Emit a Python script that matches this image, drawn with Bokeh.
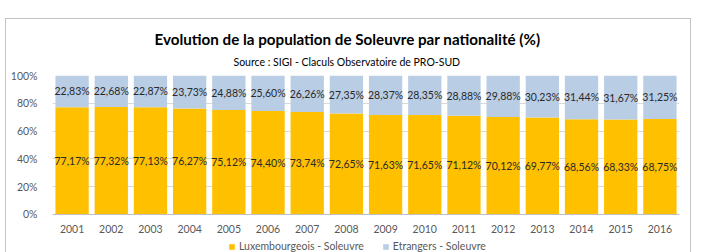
from bokeh.plotting import figure
from bokeh.models import (ColumnDataSource, LabelSet, FactorRange, Range1d, FixedTicker,
                          PrintfTickFormatter, Title, Legend, LegendItem)
from bokeh.core.properties import value
from bokeh.embed import file_html
from bokeh.resources import INLINE

# ---- data ----
years = ["2001", "2002", "2003", "2004", "2005", "2006", "2007", "2008",
         "2009", "2010", "2011", "2012", "2013", "2014", "2015", "2016"]
luxembourgeois = [77.17, 77.32, 77.13, 76.27, 75.12, 74.40, 73.74, 72.65,
                  71.63, 71.65, 71.12, 70.12, 69.77, 68.56, 68.33, 68.75]
etrangers = [22.83, 22.68, 22.87, 23.73, 24.88, 25.60, 26.26, 27.35,
             28.37, 28.35, 28.88, 29.88, 30.23, 31.44, 31.67, 31.25]
series_names = ["Luxembourgeois - Soleuvre", "Etrangers - Soleuvre"]
y_ticks = [0, 20, 40, 60, 80, 100]
title_text = "Evolution de la population de Soleuvre par nationalité (%)"
subtitle_text = "Source : SIGI - Claculs Observatoire de PRO-SUD"

YELLOW = "#FFC000"
BLUE = "#B9CDE5"
FONT = "Lato"
BOX = "#c3c3c3"

def fmt(v):
    return ("%.2f%%" % v).replace(".", ",")

src = ColumnDataSource(dict(
    x=years,
    lux=luxembourgeois,
    etr=etrangers,
    lux_c=[v / 2 for v in luxembourgeois],
    etr_c=[l + e / 2 for l, e in zip(luxembourgeois, etrangers)],
    lux_t=[fmt(v) for v in luxembourgeois],
    etr_t=[fmt(v) for v in etrangers],
))

# frame spans from the 100% line down to the bottom of the canvas; the lower part
# (below 0%) holds the category axis and legend
p = figure(width=697, height=252, x_range=FactorRange(*years), y_range=Range1d(-27.34, 100),
           output_backend="svg", toolbar_location=None,
           min_border_left=52, min_border_right=18, min_border_top=75, min_border_bottom=0)
p.outline_line_color = None
p.background_fill_color = "white"
p.border_fill_color = None
# outer chart box drawn as CSS background lines behind the transparent canvas border
grad = "linear-gradient(%s,%s)" % (BOX, BOX)
p.styles = {
    "background": (
        f"{grad} 5px 18px / 686px 1px no-repeat, "
        f"{grad} 5px 18px / 1px 300px no-repeat, "
        f"{grad} 690px 18px / 1px 300px no-repeat, white"
    )
}

renderers = p.vbar_stack(["lux", "etr"], x="x", width=0.85, color=[YELLOW, BLUE],
                         source=src, line_color=None)

# data labels
for col_y, col_t in (("lux_c", "lux_t"), ("etr_c", "etr_t")):
    p.add_layout(LabelSet(x="x", y=col_y, text=col_t, source=src, text_align="center",
                          text_baseline="middle", text_font=value(FONT),
                          text_font_size="10.5px", text_color="#2a2a2a"))

# axes
p.yaxis.ticker = FixedTicker(ticks=y_ticks)
p.yaxis.formatter = PrintfTickFormatter(format="%d%%")
p.yaxis.axis_line_color = None
p.yaxis.major_tick_line_color = None
p.yaxis.minor_tick_line_color = None
p.yaxis.major_label_standoff = 9
p.xaxis.fixed_location = 0
p.xaxis.axis_line_color = "#bfbfbf"
p.xaxis.major_tick_line_color = None
p.xaxis.minor_tick_line_color = None
p.xaxis.major_label_standoff = 5
for ax in (p.xaxis, p.yaxis):
    ax.major_label_text_font = FONT
    ax.major_label_text_font_size = "10.5px"
    ax.major_label_text_color = "#595959"

p.xgrid.grid_line_color = None
p.ygrid.grid_line_color = "#d9d9d9"
p.ygrid.ticker = FixedTicker(ticks=y_ticks)

# title / subtitle (subtitle added first: closest to plot)
p.add_layout(Title(text=subtitle_text, align="left", offset=181, standoff=16,
                   text_font=FONT, text_font_size="10.5px", text_font_style="normal",
                   text_color="#000000"), "above")
p.add_layout(Title(text=title_text, align="left", offset=102, standoff=-4,
                   text_font=FONT, text_font_size="15.2px", text_font_style="bold",
                   text_color="#000000"), "above")

# legend at the bottom of the frame
legend = Legend(items=[LegendItem(label=series_names[0], renderers=[renderers[0]]),
                       LegendItem(label=series_names[1], renderers=[renderers[1]])],
                orientation="horizontal", location=(176, 0), margin=0, padding=0,
                spacing=18, glyph_width=7, glyph_height=7, label_standoff=4,
                label_text_font=FONT, label_text_font_size="10.5px",
                label_text_color="#595959", border_line_color=None,
                background_fill_alpha=0, label_height=11)
p.add_layout(legend)

open("out.html", "w").write(file_html(p, INLINE))
